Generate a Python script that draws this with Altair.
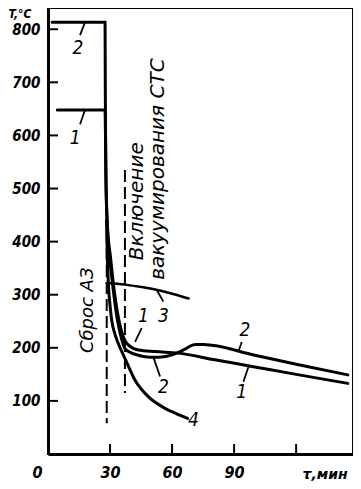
import altair as alt
import pandas as pd

# ---- curve data (time in minutes, temperature in °C) ----
c1_t = [4.5, 27.6, 27.8, 28.1, 28.6, 29.3, 30.0, 31.6, 34.0, 36.4, 38.9, 43.7, 51.8, 63, 80, 100, 120, 145]
c1_v = [648, 648, 600, 500, 440, 400, 378, 321, 258, 221, 205, 196, 193, 190, 178, 164, 150, 133]

c2_t = [2, 27.6, 27.7, 27.9, 28.3, 28.9, 29.6, 31.2, 33.4, 35.5, 37.2, 40, 43.7, 47, 51, 56, 60, 63.9, 66.5, 68.7, 71.5, 75, 100, 120, 145]
c2_v = [813, 813, 700, 560, 470, 410, 378, 321, 256, 218, 199, 191, 186, 183, 182, 183, 187, 193, 198, 203, 206, 206, 186, 169, 149]

c3_t = [28.4, 37.2, 46.0, 55.0, 61.0, 68.0]
c3_v = [322, 319, 314, 307, 301, 293]

c4_t = [28.3, 28.7, 29.2, 30.0, 30.8, 32.2, 34.0, 37.2, 42.1, 48.5, 56.6, 62, 67.5]
c4_v = [440, 370, 320, 280, 252, 228, 208, 180, 139, 108, 86, 76, 67]

curve_names = ["1", "2", "3", "4"]
curve_widths = [3, 3, 2.5, 3]

# ---- vertical dashed markers ----
dash_t = [28.4, 37.2]
dash_top = [420, 535]
dash_bot = [58, 115]

# ---- curve number labels and their leader lines ----
num_text = ["2", "1", "1", "3", "2", "4", "2", "1"]
num_t = [14.5, 13.1, 46.1, 55.8, 55.8, 70.3, 95.3, 93.7]
num_v = [765, 595, 259, 259, 127, 64, 233, 117]

lead_t1 = [17.9, 17.9, 42.1, 52.6, 51.0, 92.1, 96.9]
lead_v1 = [813, 648, 211, 309, 182, 193, 164]
lead_t2 = [15.5, 15.5, 45.3, 55.8, 54.2, 93.7, 94.5]
lead_v2 = [789, 621, 237, 287, 146, 211, 136]

# ---- rotated annotations ----
ann_text = ["Сброс АЗ", "Включение", "вакуумирования СТС"]
ann_t = [19.4, 43.2, 53.3]
ann_v = [190, 365, 328]
ann_size = [18, 20, 20]

# ---- axis ticks ----
x_ticks = [30, 60, 90, 120]
x_labels = [0, 30, 60, 90]
y_ticks = [100, 200, 300, 400, 500, 600, 700, 800]

rows = []
for name, w, ts, vs in zip(curve_names, curve_widths,
                           [c1_t, c2_t, c3_t, c4_t], [c1_v, c2_v, c3_v, c4_v]):
    for i, (t, v) in enumerate(zip(ts, vs)):
        rows.append({"curve": name, "w": w, "t": t, "v": v, "i": i})
curves_df = pd.DataFrame(rows)

dash_df = pd.DataFrame({"t": dash_t, "v1": dash_top, "v2": dash_bot})
num_df = pd.DataFrame({"label": num_text, "t": num_t, "v": num_v})
lead_df = pd.DataFrame({"t1": lead_t1, "v1": lead_v1, "t2": lead_t2, "v2": lead_v2})
ann_df = pd.DataFrame({"label": ann_text, "t": ann_t, "v": ann_v, "fs": ann_size})
xt_df = pd.DataFrame({"t": x_ticks})
yt_df = pd.DataFrame({"v": y_ticks})

xs = alt.Scale(domain=[0, 147.5], nice=False, zero=False)
ys = alt.Scale(domain=[0, 840], nice=False, zero=False)

FONT = "DejaVu Sans Condensed"

x_axis = alt.Axis(
    values=x_labels, ticks=False, tickSize=0, grid=False,
    labelFont=FONT, labelFontSize=16, labelFontStyle="italic", labelFontWeight="bold",
    labelColor="black", labelPadding=10, labelFlush=False,
    labelOffset={"condition": {"test": "datum.value === 0", "value": -11}, "value": 0},
    domainColor="black", domainWidth=3,
    title="τ,мин", titleFont="DejaVu Sans", titleFontSize=14, titleFontWeight="bold",
    titleFontStyle="italic", titleColor="black", titleAlign="left", titleAnchor="start",
    titleBaseline="alphabetic", titleX=254, titleY=24,
)
y_axis = alt.Axis(
    values=y_ticks, ticks=False, tickSize=0, grid=False,
    labelFont=FONT, labelFontSize=15, labelFontStyle="italic", labelFontWeight="bold",
    labelColor="black", labelPadding=8,
    domainColor="black", domainWidth=3,
    title="T,°C", titleFont=FONT, titleFontSize=12, titleFontWeight="bold",
    titleFontStyle="italic", titleColor="black", titleAngle=0, titleAlign="left",
    titleBaseline="top", titleX=-40, titleY=0,
)

lines = alt.Chart(curves_df).mark_line(color="black", interpolate="monotone", strokeCap="round").encode(
    x=alt.X("t:Q", scale=xs, axis=x_axis),
    y=alt.Y("v:Q", scale=ys, axis=y_axis),
    detail="curve:N",
    order="i:Q",
    strokeWidth=alt.StrokeWidth("w:Q", scale=None),
)

dashes = alt.Chart(dash_df).mark_rule(color="black", strokeWidth=2, strokeDash=[12, 5]).encode(
    x=alt.X("t:Q", scale=xs), y=alt.Y("v1:Q", scale=ys), y2="v2:Q"
)

leaders = alt.Chart(lead_df).mark_rule(color="black", strokeWidth=1.8).encode(
    x=alt.X("t1:Q", scale=xs), y=alt.Y("v1:Q", scale=ys), x2="t2:Q", y2="v2:Q"
)

nums = alt.Chart(num_df).mark_text(
    font=FONT, fontSize=19, fontStyle="italic", color="black", align="center", baseline="middle"
).encode(x=alt.X("t:Q", scale=xs), y=alt.Y("v:Q", scale=ys), text="label:N")

anns = alt.Chart(ann_df).mark_text(
    font="DejaVu Sans", fontStyle="italic", color="black", angle=270, align="left", baseline="middle"
).encode(
    x=alt.X("t:Q", scale=xs), y=alt.Y("v:Q", scale=ys), text="label:N",
    size=alt.Size("fs:Q", scale=None),
)

xticks = alt.Chart(xt_df).mark_rule(color="black", strokeWidth=2).encode(
    x=alt.X("t:Q", scale=xs), y=alt.value(446), y2=alt.value(436)
)
yticks = alt.Chart(yt_df).mark_rule(color="black", strokeWidth=2).encode(
    y=alt.Y("v:Q", scale=ys), x=alt.value(0), x2=alt.value(10)
)

chart = alt.layer(lines, dashes, leaders, nums, anns, xticks, yticks).properties(
    width=305, height=446,
    padding={"left": 40, "top": 0, "right": 0, "bottom": 27},
    autosize=alt.AutoSizeParams(type="none"),
    background="white",
).configure_view(stroke="black", strokeWidth=2)

chart.save("out.html", embed_options={"renderer": "svg", "actions": False})
